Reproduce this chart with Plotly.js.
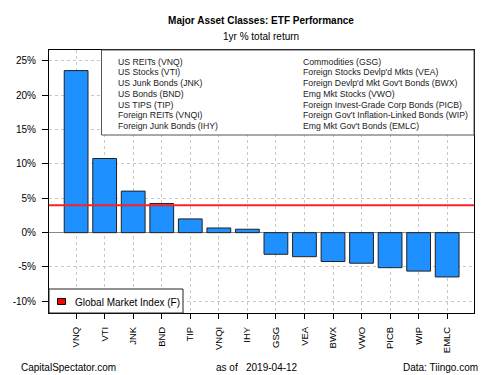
<!DOCTYPE html>
<html>
<head>
<meta charset="utf-8">
<script src="https://cdn.plot.ly/plotly-3.0.1.min.js"></script>
<style>
html, body { margin: 0; padding: 0; background: #fff; }
#chart { width: 500px; height: 375px; }
</style>
</head>
<body>
<div id="chart"></div>
<script>
// ---- data ----
const tickers = ["VNQ","VTI","JNK","BND","TIP","VNQI","IHY","GSG","VEA","BWX","VWO","PICB","WIP","EMLC"];
const returns = [23.6, 10.8, 6.05, 4.25, 2.0, 0.68, 0.5, -3.15, -3.5, -4.2, -4.45, -5.1, -5.6, -6.45];
const globalIndex = 4.0;
const legendLeft = ["US REITs (VNQ)","US Stocks (VTI)","US Junk Bonds (JNK)","US Bonds (BND)","US TIPS (TIP)","Foreign REITs (VNQI)","Foreign Junk Bonds (IHY)"];
const legendRight = ["Commodities (GSG)","Foreign Stocks Devlp'd Mkts (VEA)","Foreign Devlp'd Mkt Gov't Bonds (BWX)","Emg Mkt Stocks (VWO)","Foreign Invest-Grade Corp Bonds (PICB)","Foreign Gov't Inflation-Linked Bonds (WIP)","Emg Mkt Gov't Bonds (EMLC)"];
const yTicks = [-10, -5, 0, 5, 10, 15, 20, 25];
const titleText = "Major Asset Classes: ETF Performance";
const subtitleText = "1yr % total return";
const globalLabel = "Global Market Index (F)";
const footerLeft = "CapitalSpectator.com";
const footerAsOf = "as of";
const footerDate = "2019-04-12";
const footerRight = "Data: Tiingo.com";

// ---- geometry helpers (pixel -> paper) ----
const W = 500, H = 375;
const L = 49, R = 474, T = 50, B = 313;
const px = x => (x - L) / (R - L);
const py = y => (B - y) / (B - T);

const font = "Liberation Sans, Arial, sans-serif";

const annotations = [];
const rowY0 = 61.5, rowStep = 10.8;
legendLeft.forEach((t, i) => annotations.push({
  text: t, xref: "paper", yref: "paper", x: px(116), y: py(rowY0 + i * rowStep),
  xanchor: "left", yanchor: "middle", showarrow: false, font: {size: 8.7, color: "#1a1a1a"}
}));
legendRight.forEach((t, i) => annotations.push({
  text: t, xref: "paper", yref: "paper", x: px(300.5), y: py(rowY0 + i * rowStep),
  xanchor: "left", yanchor: "middle", showarrow: false, font: {size: 8.7, color: "#1a1a1a"}
}));
annotations.push({text: globalLabel, xref: "paper", yref: "paper", x: px(73), y: py(302.5),
  xanchor: "left", yanchor: "middle", showarrow: false, font: {size: 10, color: "#000"}});
annotations.push({text: subtitleText, xref: "paper", yref: "paper", x: px(261), y: py(36.5),
  xanchor: "center", yanchor: "middle", showarrow: false, font: {size: 10, color: "#000"}});
annotations.push({text: footerLeft, xref: "paper", yref: "paper", x: px(19), y: py(367),
  xanchor: "left", yanchor: "middle", showarrow: false, font: {size: 10, color: "#000"}});
annotations.push({text: footerAsOf, xref: "paper", yref: "paper", x: px(214), y: py(367),
  xanchor: "left", yanchor: "middle", showarrow: false, font: {size: 10, color: "#000"}});
annotations.push({text: footerDate, xref: "paper", yref: "paper", x: px(244), y: py(367),
  xanchor: "left", yanchor: "middle", showarrow: false, font: {size: 10, color: "#000"}});
annotations.push({text: footerRight, xref: "paper", yref: "paper", x: px(480), y: py(367),
  xanchor: "right", yanchor: "middle", showarrow: false, font: {size: 10, color: "#000"}});

const shapes = [
  // global market index line
  {type: "line", xref: "paper", yref: "y", x0: 0, x1: 1, y0: globalIndex, y1: globalIndex,
   line: {color: "#ff2020", width: 2}, layer: "above"},
  // top legend box
  {type: "rect", xref: "paper", yref: "paper", x0: px(101.5), x1: 1, y0: py(135), y1: 1,
   fillcolor: "#ffffff", line: {color: "#555555", width: 1}, layer: "above"},
  // bottom legend box
  {type: "rect", xref: "paper", yref: "paper", x0: 0, x1: px(183), y0: 0, y1: py(289),
   fillcolor: "#ffffff", line: {color: "#222222", width: 1}, layer: "above"},
  // red square
  {type: "rect", xref: "paper", yref: "paper", x0: px(57.5), x1: px(65.5), y0: py(304.5), y1: py(298.5),
   fillcolor: "#ff0000", line: {color: "#000", width: 1}, layer: "above"}
];

const trace = {
  type: "bar", x: tickers, y: returns, width: 0.833,
  marker: {color: "#1e90ff", line: {color: "#222222", width: 1}},
  hoverinfo: "x+y"
};

const layout = {
  width: W, height: H,
  margin: {l: L, r: W - R, t: T, b: H - B, pad: 0},
  paper_bgcolor: "#fff", plot_bgcolor: "#fff",
  font: {family: font, size: 10, color: "#000"},
  showlegend: false,
  title: {text: "<b>" + titleText + "</b>", x: 261 / W, xanchor: "center", xref: "container",
          y: 1 - 20 / H, yanchor: "middle", yref: "container", font: {size: 10, color: "#000"}},
  xaxis: {
    type: "category", range: [-0.95, 13.94],
    tickangle: -90, ticks: "outside", ticklen: 5, tickcolor: "#000", ticklabelstandoff: 4,
    showgrid: true, gridcolor: "#c8c8c8", griddash: "dot", gridwidth: 1,
    showline: true, linecolor: "#000", linewidth: 1, mirror: true,
    tickfont: {size: 9.5, color: "#000"}, fixedrange: true
  },
  yaxis: {
    range: [-11.7, 26.6], tickvals: yTicks, ticktext: yTicks.map(v => v + "%"),
    ticks: "outside", ticklen: 6, tickcolor: "#000", ticklabelstandoff: 4,
    showgrid: true, gridcolor: "#c8c8c8", griddash: "dot", gridwidth: 1,
    zeroline: true, zerolinecolor: "#888888", zerolinewidth: 1.5,
    showline: true, linecolor: "#000", linewidth: 1, mirror: true,
    tickfont: {size: 10, color: "#000"}, fixedrange: true
  },
  bargap: 0,
  shapes: shapes,
  annotations: annotations
};

Plotly.newPlot("chart", [trace], layout, {displayModeBar: false, staticPlot: true});
</script>
</body>
</html>
